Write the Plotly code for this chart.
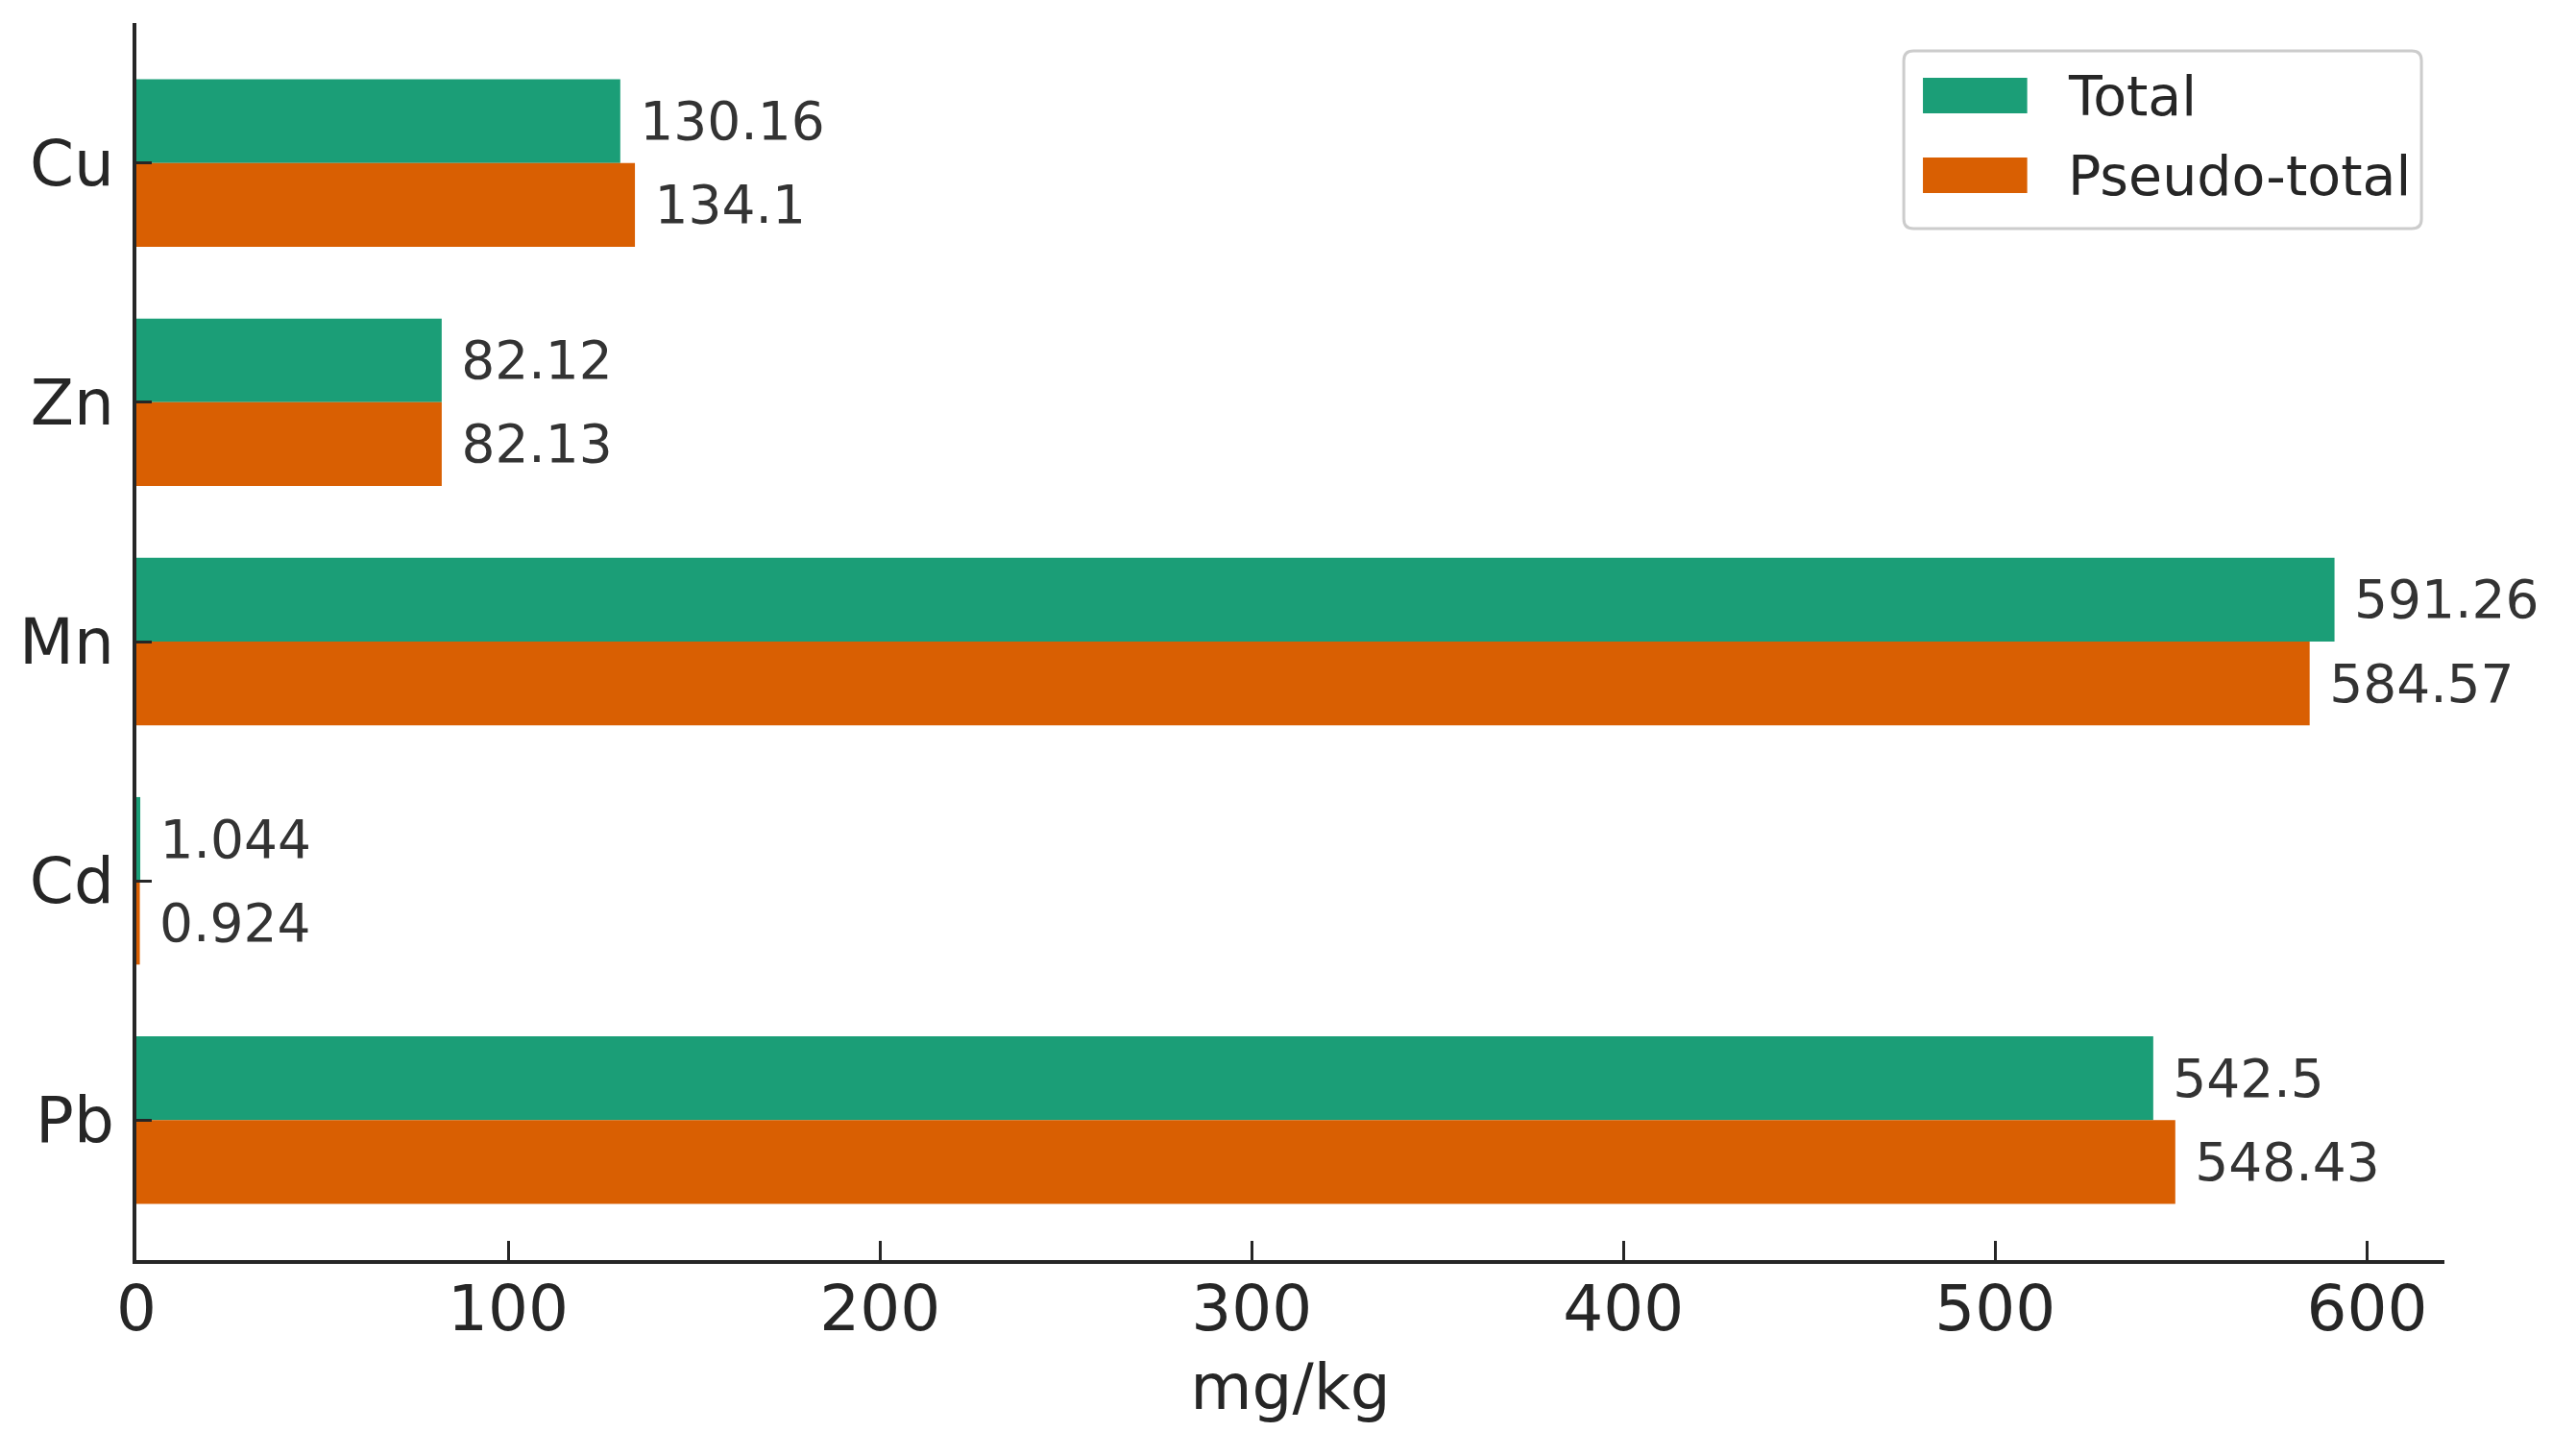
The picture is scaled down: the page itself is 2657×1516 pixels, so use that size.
import plotly.graph_objects as go

# metals, top to bottom as shown
metals = ["Cu", "Zn", "Mn", "Cd", "Pb"]
total = [130.16, 82.12, 591.26, 1.044, 542.5]
pseudo_total = [134.1, 82.13, 584.57, 0.924, 548.43]
x_ticks = [0, 100, 200, 300, 400, 500, 600]
series = [("Total", total, "#1b9e77"), ("Pseudo-total", pseudo_total, "#d95f02")]

font = "DejaVu Sans"
ink = "#262626"

# page is offset by the browser's 8px body margin
W, H = 2649, 1508
L, R, T, B = 125, 112, 16, 204
pw, ph = W - L - R, H - T - B


def paper(x, y):
    # page pixel -> paper fraction
    return (x - 8 - L) / pw, (H - B + 8 - y) / ph


fig = go.Figure()
for name, vals, col in series:
    fig.add_trace(go.Bar(
        y=metals, x=vals, name=name, orientation="h",
        marker=dict(color=col, line=dict(width=0)),
        text=["\u00a0" + str(v) for v in vals],
        textposition="outside", constraintext="none", cliponaxis=False,
        textfont=dict(family=font, size=55, color="#333333"),
        showlegend=False,
    ))

xmax = max(total + pseudo_total) * 1.05

# legend drawn by hand, to get matplotlib-style long swatches
shapes = []
annotations = []
bx0, by1 = paper(1980, 53)
bx1, by0 = paper(2521, 238)
rx, ry = 10 / pw, 10 / ph
path = (f"M{bx0+rx},{by1} L{bx1-rx},{by1} Q{bx1},{by1} {bx1},{by1-ry} "
        f"L{bx1},{by0+ry} Q{bx1},{by0} {bx1-rx},{by0} "
        f"L{bx0+rx},{by0} Q{bx0},{by0} {bx0},{by0+ry} "
        f"L{bx0},{by1-ry} Q{bx0},{by1} {bx0+rx},{by1} Z")
shapes.append(dict(type="path", xref="paper", yref="paper", path=path,
                   line=dict(color="#cccccc", width=3), fillcolor="rgba(255,255,255,0.8)"))
for i, (name, vals, col) in enumerate(series):
    top = 81 + i * 83
    sx0, sy1 = paper(2000, top)
    sx1, sy0 = paper(2109, top + 37)
    shapes.append(dict(type="rect", xref="paper", yref="paper",
                       x0=sx0, x1=sx1, y0=sy0, y1=sy1,
                       fillcolor=col, line=dict(width=0)))
    tx, ty = paper(2150, top + 19)
    annotations.append(dict(xref="paper", yref="paper", x=tx, y=ty, text=name,
                            showarrow=False, xanchor="left", yanchor="middle",
                            font=dict(family=font, size=57, color=ink)))

fig.update_layout(
    width=W, height=H,
    paper_bgcolor="white", plot_bgcolor="white",
    margin=dict(l=L, r=R, t=T, b=B),
    barmode="group", bargap=0.3, bargroupgap=0,
    font=dict(family=font, color=ink),
    shapes=shapes, annotations=annotations,
    xaxis=dict(
        range=[0, xmax], tickvals=x_ticks, ticks="inside", ticklen=20,
        tickwidth=3, tickcolor=ink, showline=True, linecolor=ink,
        linewidth=4, showgrid=False, zeroline=False,
        tickfont=dict(size=66), ticklabelstandoff=-10,
        title=dict(text="mg/kg", font=dict(size=66), standoff=22),
    ),
    yaxis=dict(
        range=[len(metals) - 0.415, -0.585], ticks="inside", ticklen=16,
        tickwidth=3, tickcolor=ink, showline=True, linecolor=ink,
        linewidth=4, showgrid=False, zeroline=False,
        tickfont=dict(size=66), ticklabelstandoff=6,
    ),
)

fig.write_html("out.html")
